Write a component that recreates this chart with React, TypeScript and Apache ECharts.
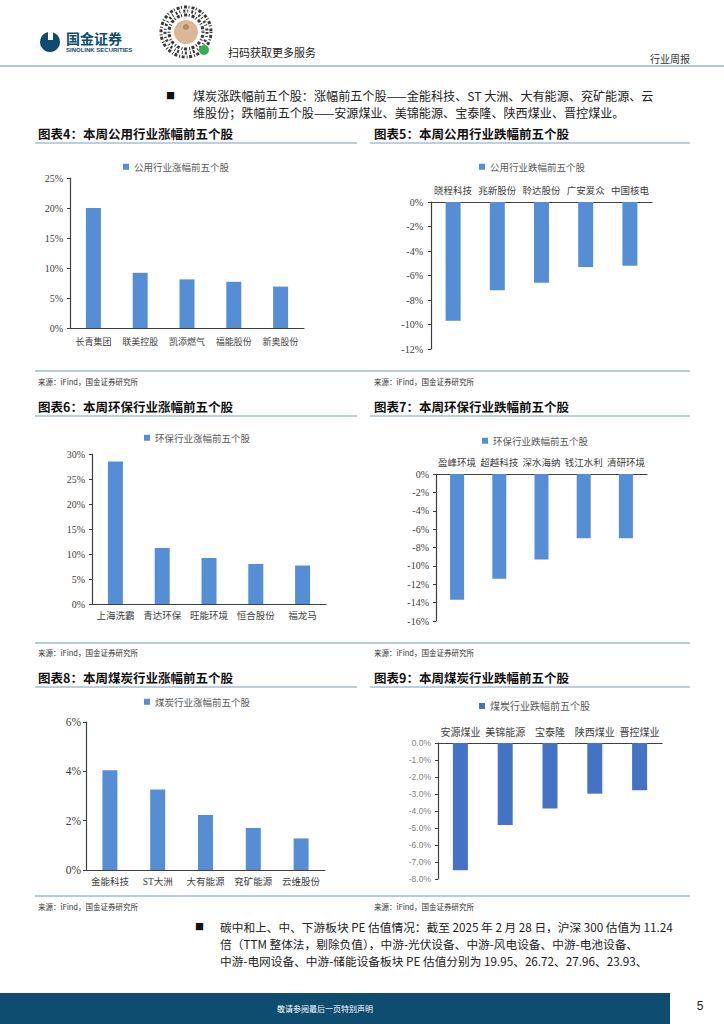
import React, { useEffect, useRef } from "react";
import * as echarts from "echarts";

// ---------- data ----------
const up4Cats = ["长青集团", "联美控股", "凯添燃气", "福能股份", "新奥股份"];
const up4Vals = [20.0, 9.2, 8.1, 7.7, 6.9];
const down5Cats = ["晓程科技", "兆新股份", "聆达股份", "广安爱众", "中国核电"];
const down5Vals = [-9.7, -7.2, -6.6, -5.3, -5.2];
const up6Cats = ["上海洗霸", "青达环保", "旺能环境", "恒合股份", "福龙马"];
const up6Vals = [28.5, 11.2, 9.2, 8.0, 7.7];
const down7Cats = ["盈峰环境", "超越科技", "深水海纳", "钱江水利", "清研环境"];
const down7Vals = [-13.7, -11.4, -9.3, -7.0, -7.0];
const up8Cats = ["金能科技", "ST大洲", "大有能源", "兖矿能源", "云维股份"];
const up8Vals = [4.04, 3.26, 2.23, 1.7, 1.28];
const down9Cats = ["安源煤业", "美锦能源", "宝泰隆", "陕西煤业", "晋控煤业"];
const down9Vals = [-7.49, -4.82, -3.86, -2.98, -2.78];

const seriesNames = [
  "公用行业涨幅前五个股",
  "公用行业跌幅前五个股",
  "环保行业涨幅前五个股",
  "环保行业跌幅前五个股",
  "煤炭行业涨幅前五个股",
  "煤炭行业跌幅前五个股",
];
const chartTitles = [
  "图表4：本周公用行业涨幅前五个股",
  "图表5：本周公用行业跌幅前五个股",
  "图表6：本周环保行业涨幅前五个股",
  "图表7：本周环保行业跌幅前五个股",
  "图表8：本周煤炭行业涨幅前五个股",
  "图表9：本周煤炭行业跌幅前五个股",
];
const yMins = [0, -12, 0, -16, 0, -8];
const yMaxs = [25, 0, 30, 0, 6, 0];
const ySteps = [5, 2, 5, 2, 2, 1];
const allCats = [up4Cats, down5Cats, up6Cats, down7Cats, up8Cats, down9Cats];
const allVals = [up4Vals, down5Vals, up6Vals, down7Vals, up8Vals, down9Vals];

const sourceText = "来源：iFind，国金证券研究所";
const bullet1 = [
  "煤炭涨跌幅前五个股：涨幅前五个股——金能科技、ST 大洲、大有能源、兖矿能源、云",
  "维股份；跌幅前五个股——安源煤业、美锦能源、宝泰隆、陕西煤业、晋控煤业。",
];
const bullet2 = [
  "碳中和上、中、下游板块 PE 估值情况：截至 2025 年 2 月 28 日，沪深 300 估值为 11.24",
  "倍（TTM 整体法，剔除负值），中游-光伏设备、中游-风电设备、中游-电池设备、",
  "中游-电网设备、中游-储能设备板块 PE 估值分别为 19.95、26.72、27.96、23.93、",
];

// ---------- layout ----------
const SERIF = "'Liberation Serif', 'Times New Roman', 'Noto Sans CJK SC', serif";
const SANS = "'Liberation Sans', 'Noto Sans CJK SC', sans-serif";
const CJK = "'Noto Sans CJK SC', sans-serif";

type Layout = {
  left: number; top: number; width: number; height: number;
  neg: boolean; color: string; barWidth: number;
  catFont: string; catSize: number; catMargin: number; catColor: string;
  yFont: string; ySize: number; yMargin: number; yColor: string; fixed1: boolean;
  legLeft: number; legTop: number; legSize: number; legFont: string;
};

const layouts: Layout[] = [
  { left: 70, top: 178, width: 234, height: 150, neg: false, color: "#558ED5", barWidth: 15,
    catFont: SERIF, catSize: 9, catMargin: 9, catColor: "#404040",
    yFont: SERIF, ySize: 10, yMargin: 7, yColor: "#404040", fixed1: false,
    legLeft: 123, legTop: 162, legSize: 9.5, legFont: CJK },
  { left: 431, top: 202, width: 221, height: 147, neg: true, color: "#558ED5", barWidth: 15,
    catFont: SERIF, catSize: 9.5, catMargin: 6, catColor: "#404040",
    yFont: SERIF, ySize: 10, yMargin: 8, yColor: "#404040", fixed1: false,
    legLeft: 479, legTop: 162, legSize: 9.5, legFont: CJK },
  { left: 92, top: 454, width: 234, height: 150, neg: false, color: "#558ED5", barWidth: 15,
    catFont: SERIF, catSize: 9.5, catMargin: 7, catColor: "#404040",
    yFont: SERIF, ySize: 10, yMargin: 7, yColor: "#404040", fixed1: false,
    legLeft: 144, legTop: 433, legSize: 9.5, legFont: CJK },
  { left: 436, top: 474, width: 211, height: 147, neg: true, color: "#558ED5", barWidth: 14,
    catFont: SERIF, catSize: 9.5, catMargin: 6, catColor: "#404040",
    yFont: SERIF, ySize: 10, yMargin: 7, yColor: "#404040", fixed1: false,
    legLeft: 482, legTop: 436, legSize: 9.5, legFont: CJK },
  { left: 86, top: 722, width: 239, height: 148, neg: false, color: "#558ED5", barWidth: 15,
    catFont: SERIF, catSize: 9.5, catMargin: 7, catColor: "#404040",
    yFont: SERIF, ySize: 11.5, yMargin: 5, yColor: "#404040", fixed1: false,
    legLeft: 144, legTop: 697, legSize: 9.5, legFont: CJK },
  { left: 438, top: 743, width: 224, height: 136, neg: true, color: "#4472C4", barWidth: 15,
    catFont: SANS, catSize: 10, catMargin: 6, catColor: "#404040",
    yFont: SANS, ySize: 8.5, yMargin: 7, yColor: "#7f7f7f", fixed1: true,
    legLeft: 479, legTop: 701, legSize: 10, legFont: SANS },
];

const titlePos = [
  [38, 133], [374, 133], [38, 406], [374, 406], [38, 677], [374, 677],
];
const topLines = [
  [35, 357, 143], [370, 690, 143], [35, 357, 416], [370, 690, 416], [35, 357, 687], [370, 690, 687],
];
const bottomLines = [[35, 690, 371], [35, 690, 643], [35, 690, 896]];
const sourceY = [381, 652, 906];

function buildOption() {
  const grid: any[] = [];
  const xAxis: any[] = [];
  const yAxis: any[] = [];
  const series: any[] = [];
  const legend: any[] = [];
  layouts.forEach((L, i) => {
    grid.push({ left: L.left, top: L.top, width: L.width, height: L.height, containLabel: false });
    xAxis.push({
      type: "category",
      gridIndex: i,
      data: allCats[i],
      position: L.neg ? "top" : "bottom",
      axisLine: { onZero: false, lineStyle: { color: "#404040", width: 1.2 } },
      axisTick: { show: false },
      axisLabel: {
        interval: 0, margin: L.catMargin, fontSize: L.catSize, fontFamily: L.catFont, color: L.catColor,
      },
    });
    yAxis.push({
      type: "value",
      gridIndex: i,
      min: yMins[i],
      max: yMaxs[i],
      interval: ySteps[i],
      splitLine: { show: false },
      axisLine: { show: true, lineStyle: { color: "#404040", width: 1.2 } },
      axisTick: { show: true, length: 3, lineStyle: { color: "#404040" } },
      axisLabel: {
        margin: L.yMargin, fontSize: L.ySize, fontFamily: L.yFont, color: L.yColor,
        formatter: (v: number) => (L.fixed1 ? v.toFixed(1) : String(v)) + "%",
      },
    });
    series.push({
      name: seriesNames[i],
      type: "bar",
      xAxisIndex: i,
      yAxisIndex: i,
      data: allVals[i],
      barWidth: L.barWidth,
      itemStyle: { color: L.color },
    });
    legend.push({
      left: L.legLeft, top: L.legTop, padding: 0, itemGap: 0, itemWidth: 6, itemHeight: 6,
      icon: "rect", data: [seriesNames[i]], selectedMode: false,
      textStyle: { fontSize: L.legSize, fontFamily: L.legFont, color: "#595959" },
    });
  });

  const g: any[] = [];
  const txt = (x: number, y: number, text: string, fontSize: number, extra: any = {}) =>
    g.push({
      type: "text", x, y, silent: true,
      style: { text, fontSize, fontFamily: CJK, fill: "#222", verticalAlign: "middle", align: "left", ...extra },
    });
  const line = (x1: number, y1: number, x2: number, y2: number, stroke: string, lineWidth: number) =>
    g.push({ type: "line", silent: true, shape: { x1, y1, x2, y2 }, style: { stroke, lineWidth } });

  // header
  g.push({ type: "circle", shape: { cx: 50, cy: 42, r: 10 }, style: { fill: "#0d4c6e" } });
  g.push({ type: "rect", shape: { x: 48, y: 31, width: 5, height: 9 }, style: { fill: "#ffffff" } });
  txt(66, 38, "国金证券", 14, { fill: "#0d4c6e", fontWeight: "bold" });
  txt(66, 50, "SINOLINK SECURITIES", 6, { fill: "#0d4c6e", fontWeight: "bold", fontFamily: SANS });
  // mini program code
  [25, 21, 17].forEach((r, k) =>
    g.push({
      type: "circle", shape: { cx: 186, cy: 32, r },
      style: { fill: "none", stroke: "#3a3a3a", lineWidth: 3, lineDash: k === 1 ? [2, 2, 1, 3] : [1, 2, 3, 1.5] },
    })
  );
  g.push({ type: "circle", shape: { cx: 186, cy: 32, r: 12 }, style: { fill: "#d9b896" } });
  g.push({ type: "circle", shape: { cx: 186, cy: 27, r: 3 }, style: { fill: "#b38a63" } });
  g.push({ type: "circle", shape: { cx: 204, cy: 50, r: 5 }, style: { fill: "#2fb24a" } });
  txt(228, 52, "扫码获取更多服务", 11, { fill: "#222" });
  txt(690, 58, "行业周报", 10, { fill: "#333", align: "right" });
  line(0, 66, 724, 66, "#9fb2c1", 1.5);

  // bullet 1
  txt(166, 95, "■", 9, { fill: "#111" });
  bullet1.forEach((t, k) => txt(193, 95 + k * 17, t, 12.1, { fill: "#222" }));

  // chart titles & lines
  chartTitles.forEach((t, i) => txt(titlePos[i][0], titlePos[i][1], t, 12.5, { fill: "#111", fontWeight: "bold" }));
  topLines.forEach(([a, b, y]) => line(a, y, b, y, "#a9bfcc", 1.5));
  bottomLines.forEach(([a, b, y]) => line(a, y, b, y, "#b8ccd8", 2));
  sourceY.forEach((y) => {
    txt(38, y, sourceText, 7.5, { fill: "#333" });
    txt(374, y, sourceText, 7.5, { fill: "#333" });
  });

  // bullet 2
  txt(195, 926, "■", 9, { fill: "#111" });
  bullet2.forEach((t, k) => txt(220, 926 + k * 17, t, 11.7, { fill: "#222" }));

  // footer
  g.push({ type: "rect", shape: { x: 0, y: 993, width: 670, height: 31 }, style: { fill: "#0e4d6f" } });
  txt(325, 1008, "敬请参阅最后一页特别声明", 8, { fill: "#ffffff", align: "center" });
  txt(700, 1006, "5", 12, { fill: "#222", fontFamily: SANS, align: "center" });

  return { animation: false, backgroundColor: "#ffffff", grid, xAxis, yAxis, series, legend, graphic: g };
}

export default function App() {
  const ref = useRef<HTMLDivElement>(null);
  useEffect(() => {
    if (!ref.current) return;
    const chart = echarts.init(ref.current, null, { renderer: "svg", width: 724, height: 1024 });
    chart.setOption(buildOption() as any);
    return () => chart.dispose();
  }, []);
  return (
    <div
      ref={ref}
      style={{ position: "absolute", left: 0, top: 0, width: 724, height: 1024, background: "#fff" }}
    />
  );
}
